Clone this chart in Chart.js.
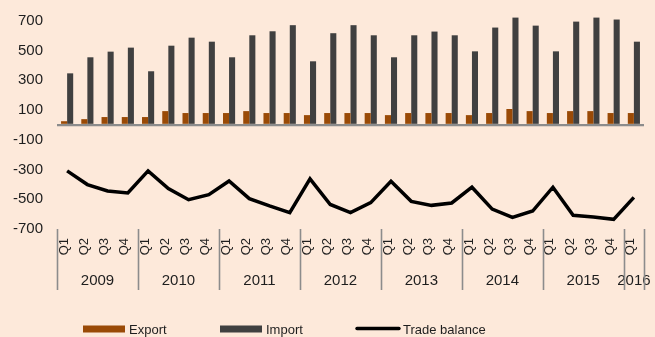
<!DOCTYPE html>
<html>
<head>
<meta charset="utf-8">
<script src="https://cdn.jsdelivr.net/npm/chart.js@4.4.1/dist/chart.umd.min.js"></script>
<style>
  html, body { margin: 0; padding: 0; background: #FDE9DA; }
  #wrap { width: 655px; height: 337px; position: relative; }
</style>
</head>
<body>
<div id="wrap"><canvas id="c" width="655" height="337"></canvas></div>
<script>
// Quarterly trade figures, 2009 Q1 – 2016 Q1
const quarters = [
  'Q1','Q2','Q3','Q4', 'Q1','Q2','Q3','Q4', 'Q1','Q2','Q3','Q4',
  'Q1','Q2','Q3','Q4', 'Q1','Q2','Q3','Q4', 'Q1','Q2','Q3','Q4',
  'Q1','Q2','Q3','Q4', 'Q1'
];
const years = ['2009','2010','2011','2012','2013','2014','2015','2016'];
const quartersPerYear = [4, 4, 4, 4, 4, 4, 4, 1];

const exportValues = [
  25, 39, 53, 53,
  53, 93, 80, 80,
  80, 93, 80, 80,
  66, 80, 80, 80,
  66, 80, 80, 80,
  66, 80, 107, 93,
  80, 93, 93, 80,
  80
];
const importValues = [
  347, 455, 493, 520,
  361, 533, 587, 560,
  455, 603, 630, 671,
  428, 617, 671, 603,
  455, 603, 628, 603,
  495, 655, 722, 668,
  495, 695, 722, 709,
  560
];
const balanceValues = [
  -309, -401, -444, -458,
  -309, -428, -503, -469,
  -377, -496, -545, -590,
  -363, -535, -590, -523,
  -379, -514, -541, -525,
  -419, -566, -622, -579,
  -419, -608, -619, -635,
  -487
];
const yTicks = [-700, -500, -300, -100, 100, 300, 500, 700];

const COL_EXPORT = '#9A4A06';
const COL_IMPORT = '#404040';
const COL_BAL = '#000000';
const COL_AXIS = '#8C8C8C';
const TEXT = '#1E1E1E';
const FONT = "'Liberation Sans', Arial, sans-serif";

// Year row under the quarter labels, with separators between years
const yearRow = {
  id: 'yearRow',
  afterDraw(chart) {
    const x = chart.scales.x;
    const ctx = chart.ctx;
    const top = chart.chartArea.bottom;
    const half = (x.getPixelForValue(1) - x.getPixelForValue(0)) / 2;
    ctx.save();
    ctx.strokeStyle = COL_AXIS;
    ctx.lineWidth = 1.6;
    ctx.fillStyle = TEXT;
    ctx.font = '15px ' + FONT;
    ctx.textAlign = 'center';
    ctx.textBaseline = 'middle';
    let idx = 0;
    const edges = [x.getPixelForValue(0) - half];
    years.forEach((yr, i) => {
      const first = idx, last = idx + quartersPerYear[i] - 1;
      const cx = (x.getPixelForValue(first) + x.getPixelForValue(last)) / 2;
      ctx.fillText(yr, cx, 281);
      edges.push(x.getPixelForValue(last) + half);
      idx = last + 1;
    });
    edges.forEach(px => {
      const xx = Math.round(px) + 0.5;
      ctx.beginPath();
      ctx.moveTo(xx, top);
      ctx.lineTo(xx, top + 61);
      ctx.stroke();
    });
    ctx.restore();
  }
};

// Legend row along the bottom edge
const legendRow = {
  id: 'legendRow',
  afterDraw(chart) {
    const ctx = chart.ctx;
    const starts = [83, 220, 356];
    const yMid = 329;
    ctx.save();
    ctx.font = '13px ' + FONT;
    ctx.textBaseline = 'middle';
    ctx.textAlign = 'left';
    chart.data.datasets.forEach((ds, i) => {
      const x0 = starts[i];
      if (ds.type === 'line') {
        ctx.strokeStyle = ds.borderColor;
        ctx.lineWidth = 3.4;
        ctx.lineCap = 'round';
        ctx.beginPath();
        ctx.moveTo(x0 + 1, yMid - 0.5);
        ctx.lineTo(x0 + 43, yMid - 0.5);
        ctx.stroke();
        ctx.fillStyle = TEXT;
        ctx.fillText(ds.label, x0 + 47, yMid + 1);
      } else {
        ctx.fillStyle = ds.backgroundColor;
        ctx.fillRect(x0, yMid - 3.5, 42, 7);
        ctx.fillStyle = TEXT;
        ctx.fillText(ds.label, x0 + 46, yMid + 1);
      }
    });
    ctx.restore();
  }
};

new Chart(document.getElementById('c'), {
  data: {
    labels: quarters,
    datasets: [
      {
        type: 'bar', label: 'Export', data: exportValues,
        backgroundColor: COL_EXPORT, borderWidth: 0,
        categoryPercentage: 0.6, barPercentage: 1.0, order: 2
      },
      {
        type: 'bar', label: 'Import', data: importValues,
        backgroundColor: COL_IMPORT, borderWidth: 0,
        categoryPercentage: 0.6, barPercentage: 1.0, order: 2
      },
      {
        type: 'line', label: 'Trade balance', data: balanceValues,
        borderColor: COL_BAL, backgroundColor: COL_BAL, borderWidth: 3.5,
        pointRadius: 0, tension: 0, fill: false, order: 1,
        borderJoinStyle: 'miter'
      }
    ]
  },
  options: {
    responsive: false,
    animation: false,
    devicePixelRatio: 1,
    layout: { padding: { top: 6, right: 11, bottom: 0, left: 0 } },
    plugins: {
      legend: { display: false },
      tooltip: { enabled: false }
    },
    scales: {
      x: {
        offset: true,
        grid: { display: false, drawTicks: false },
        border: { display: false },
        ticks: {
          autoSkip: false, minRotation: 90, maxRotation: 90,
          padding: 9, labelOffset: -3,
          color: TEXT, font: { family: FONT, size: 13 }
        },
        afterFit(scale) {
          scale.height = 108;
          scale.paddingLeft = 0;
          scale.paddingRight = 0;
        }
      },
      y: {
        min: -700, max: 800,
        z: 1,
        border: { display: false },
        grid: {
          drawTicks: true,
          tickLength: 14,
          tickColor: 'rgba(0,0,0,0)',
          color: c => (c.tick && c.tick.value === 0) ? COL_AXIS : 'rgba(0,0,0,0)',
          lineWidth: 2.2
        },
        afterBuildTicks(scale) {
          scale.ticks = yTicks.concat([0]).sort((a, b) => a - b).map(v => ({ value: v }));
        },
        ticks: {
          padding: 0, color: TEXT, font: { family: FONT, size: 15, lineHeight: 0.8 },
          callback: v => (v === 0 ? '' : String(v))
        },
        afterFit(scale) { scale.width = 57; }
      }
    }
  },
  plugins: [yearRow, legendRow]
});
</script>
</body>
</html>
